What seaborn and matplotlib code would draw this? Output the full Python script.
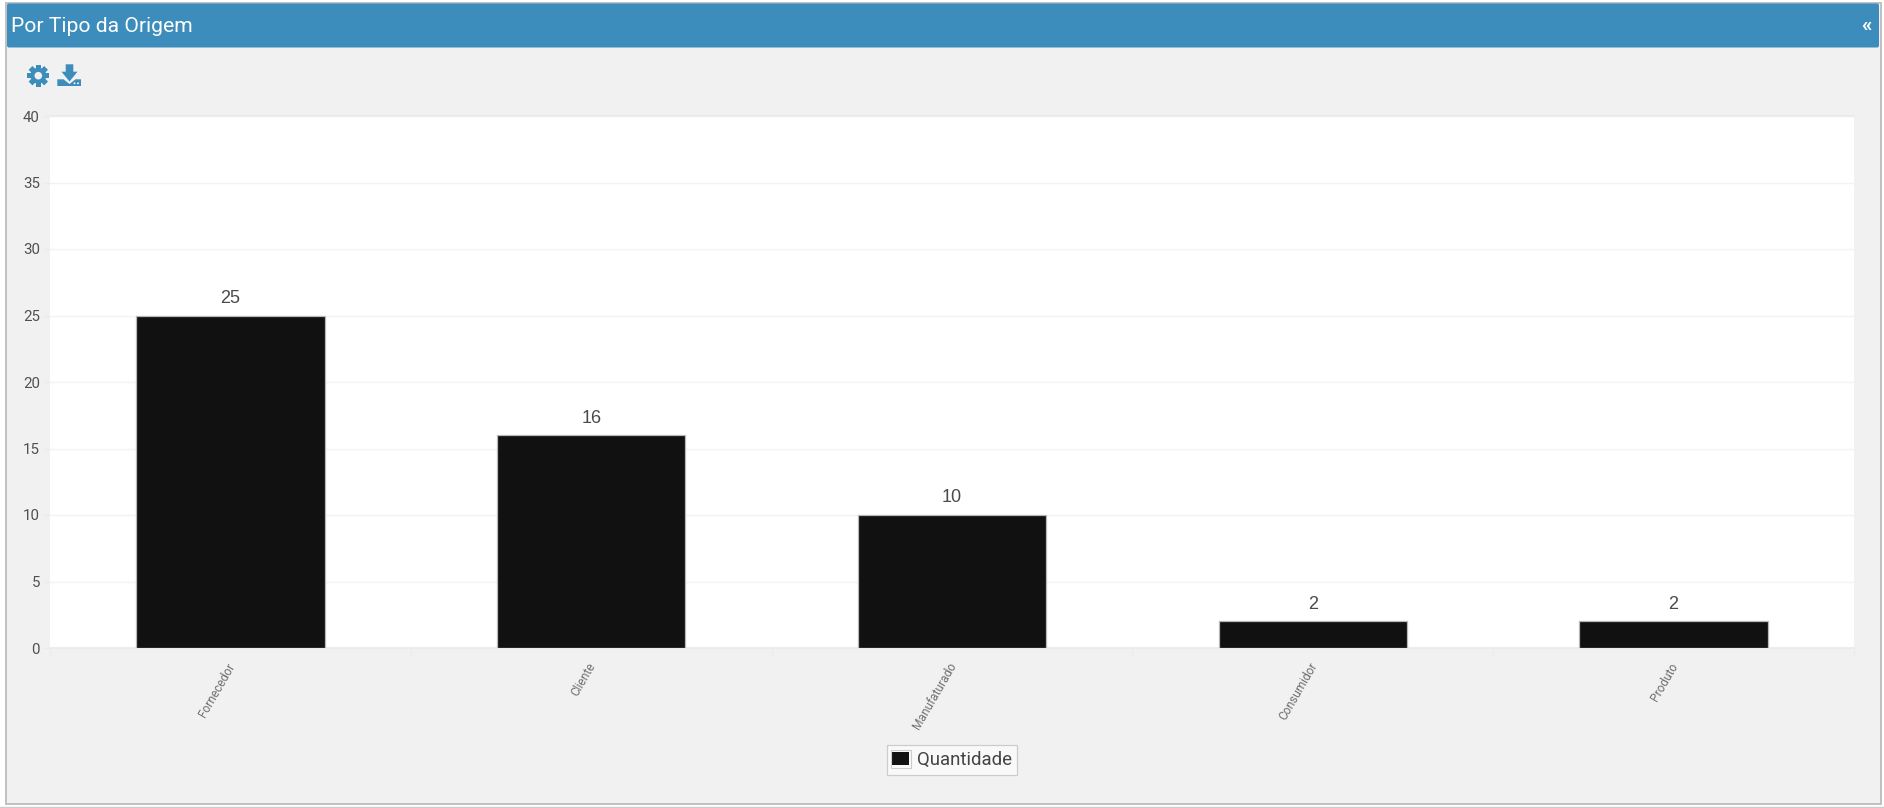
import matplotlib
matplotlib.use("Agg")
import matplotlib.pyplot as plt
from matplotlib.patches import Rectangle, FancyBboxPatch, Circle, Polygon
from matplotlib.transforms import Affine2D, IdentityTransform, ScaledTranslation
import numpy as np
import pandas as pd
import seaborn as sns

categories = ["Fornecedor", "Cliente", "Manufaturado", "Consumidor", "Produto"]
quantities = [25, 16, 10, 2, 2]
y_ticks = [0, 5, 10, 15, 20, 25, 30, 35, 40]
panel_title = "Por Tipo da Origem"
series_name = "Quantidade"

W, H = 1884, 808
PANEL = "#f1f1f1"
BLUE = "#3c8dbc"
BAR = "#111111"
TEXT = "#505050"

sns.set_theme(style="white")
plt.rcParams["font.family"] = ["Roboto", "DejaVu Sans"]

fig = plt.figure(figsize=(W / 100, H / 100), dpi=100, facecolor="white")

# page-level layer in pixel units: panel frame, header and toolbar icons
bg = fig.add_axes([0, 0, 1, 1], zorder=0)
bg.set_xlim(0, W)
bg.set_ylim(H, 0)
bg.axis("off")
bg.add_patch(Rectangle((5.5, 2.5), 1875, 801.5, fc=PANEL, ec="#c0c0c0", lw=1.4))
bg.add_patch(Rectangle((0, 806.5), W, 3, fc="#f4f4f4", ec="#cccccc", lw=1))
bg.add_patch(FancyBboxPatch((7, 3.5), 1872, 44, boxstyle="round,pad=0,rounding_size=2", fc=BLUE, ec="none"))
bg.text(11, 26, panel_title, color="white", fontsize=15.2, va="center", ha="left")
bg.text(1866, 26, "«", color="white", fontsize=15, fontweight="bold", va="center", ha="center")

# gear icon
gear_c = (38.3, 75.7)
for a in np.arange(0, 180, 45):
    bg.add_patch(Rectangle((gear_c[0] - 2.7, gear_c[1] - 11), 5.4, 22, fc=BLUE, ec="none",
                           transform=Affine2D().rotate_deg_around(*gear_c, a) + bg.transData))
bg.add_patch(Circle(gear_c, 8.0, fc=BLUE, ec="none"))
bg.add_patch(Circle(gear_c, 3.8, fc=PANEL, ec="none"))

# download icon
bg.add_patch(Polygon([(65.7, 64.3), (73.3, 64.3), (73.3, 71.7), (77.5, 71.7), (69.5, 81.5), (61.5, 71.7), (65.7, 71.7)],
                     fc=BLUE, ec="none"))
bg.add_patch(Polygon([(57.3, 79.3), (63.5, 79.3), (69.5, 84), (75.5, 79.3), (81, 79.3), (81, 86), (57.3, 86)],
                     fc=BLUE, ec="none"))
bg.add_patch(Circle((74.5, 83.3), 0.9, fc="white", ec="none"))
bg.add_patch(Circle((78, 83.3), 0.9, fc="white", ec="none"))

# chart area
left, right, top, bottom = 50, 1854, 116, 648
ax = fig.add_axes([left / W, 1 - bottom / H, (right - left) / W, (bottom - top) / H], zorder=1)
ax.set_facecolor("white")

data = pd.DataFrame({"categoria": categories, "quantidade": quantities})
sns.barplot(data=data, x="categoria", y="quantidade", color=BAR, saturation=1, width=0.522,
            edgecolor="#b8b8b8", linewidth=0.9, zorder=3, ax=ax, label=series_name)
for container in ax.containers:
    ax.bar_label(container, padding=6.2, color="#4a4a4a", fontsize=13, family="Liberation Sans")

ax.set_xlim(-0.5, len(categories) - 0.5)
ax.set_ylim(0, 40)
ax.set_yticks(y_ticks)
ax.set_xlabel("")
ax.set_ylabel("")
ax.yaxis.grid(True, color="#f3f3f3", lw=1, zorder=0)
ax.xaxis.grid(False)
for spine in ax.spines.values():
    spine.set_visible(False)
for side in ("top", "bottom"):
    ax.spines[side].set_visible(True)
    ax.spines[side].set_color("#ebebeb")

ax.tick_params(axis="y", length=5.8, width=0.8, color="#ececec", labelcolor=TEXT, labelsize=10.8, pad=1.5, left=True)
ax.set_xticks(range(len(categories)))
ax.set_xticklabels(categories)
ax.tick_params(axis="x", length=0, labelcolor="#707070", labelsize=8.6, pad=9)
shift = ScaledTranslation(-4 / 100, 0, fig.dpi_scale_trans)
for lab in ax.get_xticklabels():
    lab.set_rotation(60)
    lab.set_ha("right")
    lab.set_rotation_mode("anchor")
    lab.set_transform(lab.get_transform() + shift)
ax.set_xticks(np.arange(-0.5, len(categories)), minor=True)
ax.tick_params(axis="x", which="minor", length=5.8, width=0.8, color="#ececec", bottom=True)

# legend box under the plot
leg = ax.legend(loc="center", bbox_to_anchor=(952, H - 760), bbox_transform=IdentityTransform(),
                frameon=True, fancybox=False, fontsize=13.4, labelcolor="#444444", handlelength=0.87, handleheight=0.68,
                handletextpad=0.43, borderpad=0.3, borderaxespad=0)
leg.get_frame().set_edgecolor("#cccccc")
leg.get_frame().set_facecolor("#f9f9f9")
leg.get_frame().set_alpha(1)
leg.get_frame().set_linewidth(0.9)
leg.set_clip_on(False)
for handle in leg.legend_handles:
    handle.set_edgecolor("none")

# thin outline around the legend swatch
fig.add_artist(Rectangle((891, 750.3), 19.7, 17.4, fc="none", ec="#cccccc", lw=0.8,
                         transform=bg.transData, zorder=5, clip_on=False))

fig.savefig("out.png", dpi=100, facecolor="white")
